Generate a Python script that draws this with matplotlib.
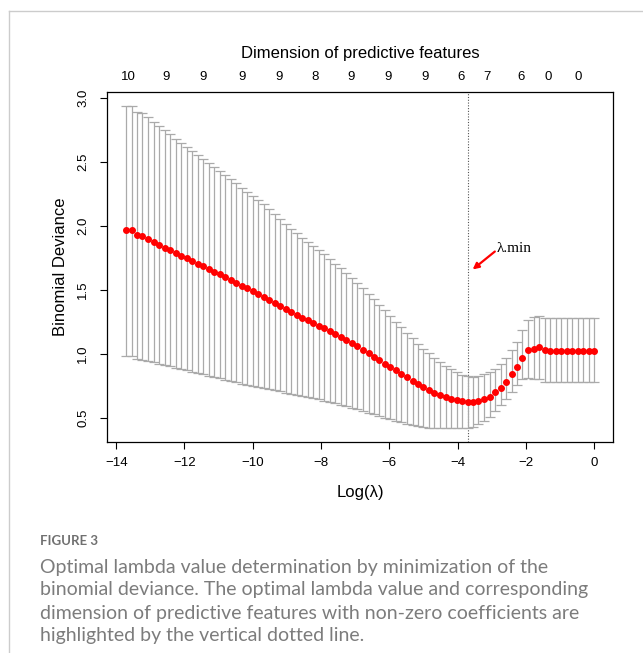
import matplotlib
matplotlib.use("Agg")
import matplotlib.pyplot as plt
from matplotlib.lines import Line2D

# log(lambda) grid of the cv.glmnet fit
log_lambda = [
    -13.71, -13.55, -13.39, -13.23, -13.06, -12.90, -12.74, -12.58, -12.42, -12.26,
    -12.10, -11.94, -11.77, -11.61, -11.45, -11.29, -11.13, -10.97, -10.81, -10.65,
    -10.48, -10.32, -10.16, -10.00, -9.84, -9.68, -9.52, -9.35, -9.19, -9.03,
    -8.87, -8.71, -8.55, -8.39, -8.23, -8.06, -7.90, -7.74, -7.58, -7.42,
    -7.26, -7.10, -6.94, -6.77, -6.61, -6.45, -6.29, -6.13, -5.97, -5.81,
    -5.65, -5.48, -5.32, -5.16, -5.00, -4.84, -4.68, -4.52, -4.35, -4.19,
    -4.03, -3.87, -3.71, -3.55, -3.39, -3.23, -3.06, -2.90, -2.74, -2.58,
    -2.42, -2.26, -2.10, -1.94, -1.77, -1.61, -1.45, -1.29, -1.13, -0.97,
    -0.81, -0.65, -0.48, -0.32, -0.16, 0.00,
]

cv_mean = [
    1.966, 1.966, 1.927, 1.919, 1.898, 1.874, 1.853, 1.830, 1.810, 1.789,
    1.768, 1.747, 1.726, 1.705, 1.685, 1.666, 1.643, 1.622, 1.601, 1.578,
    1.557, 1.534, 1.513, 1.492, 1.469, 1.448, 1.424, 1.398, 1.375, 1.349,
    1.326, 1.305, 1.284, 1.263, 1.242, 1.221, 1.201, 1.178, 1.154, 1.131,
    1.108, 1.084, 1.063, 1.034, 1.006, 0.980, 0.951, 0.925, 0.899, 0.874,
    0.847, 0.819, 0.793, 0.767, 0.741, 0.720, 0.699, 0.678, 0.663, 0.652,
    0.642, 0.632, 0.626, 0.626, 0.634, 0.650, 0.668, 0.702, 0.738, 0.785,
    0.842, 0.902, 0.970, 1.034, 1.042, 1.053, 1.034, 1.026, 1.026, 1.026,
    1.026, 1.026, 1.026, 1.026, 1.026, 1.026,
]

cv_upper = [
    2.938, 2.938, 2.891, 2.878, 2.852, 2.813, 2.782, 2.746, 2.714, 2.680,
    2.649, 2.618, 2.587, 2.553, 2.524, 2.493, 2.462, 2.428, 2.397, 2.366,
    2.332, 2.298, 2.267, 2.236, 2.205, 2.171, 2.129, 2.093, 2.054, 2.012,
    1.976, 1.942, 1.908, 1.877, 1.846, 1.812, 1.778, 1.742, 1.705, 1.669,
    1.633, 1.596, 1.557, 1.518, 1.469, 1.427, 1.383, 1.341, 1.297, 1.253,
    1.209, 1.167, 1.123, 1.081, 1.042, 1.006, 0.970, 0.939, 0.907, 0.881,
    0.858, 0.837, 0.826, 0.822, 0.828, 0.842, 0.858, 0.885, 0.922, 0.970,
    1.030, 1.097, 1.187, 1.264, 1.290, 1.300, 1.280, 1.278, 1.278, 1.278,
    1.278, 1.278, 1.278, 1.278, 1.278, 1.278,
]

cv_lower = [
    0.988, 0.988, 0.959, 0.954, 0.946, 0.936, 0.925, 0.915, 0.905, 0.894,
    0.884, 0.874, 0.863, 0.853, 0.842, 0.832, 0.821, 0.811, 0.800, 0.790,
    0.780, 0.770, 0.762, 0.753, 0.744, 0.735, 0.727, 0.718, 0.710, 0.700,
    0.691, 0.684, 0.673, 0.665, 0.655, 0.647, 0.637, 0.626, 0.616, 0.605,
    0.595, 0.582, 0.569, 0.556, 0.543, 0.530, 0.517, 0.504, 0.494, 0.480,
    0.468, 0.457, 0.447, 0.439, 0.431, 0.426, 0.423, 0.421, 0.421, 0.421,
    0.421, 0.421, 0.421, 0.435, 0.455, 0.480, 0.512, 0.559, 0.603, 0.650,
    0.707, 0.759, 0.803, 0.810, 0.806, 0.803, 0.785, 0.780, 0.780, 0.780,
    0.780, 0.780, 0.780, 0.780, 0.780, 0.780,
]

idx_min = 62  # lambda.min

# number of non-zero coefficients shown on the top axis
top_pos = [-13.65, -12.54, -11.46, -10.32, -9.23, -8.18, -7.12, -6.04,
           -4.96, -3.90, -3.14, -2.15, -1.36, -0.48]
top_labels = ["10", "9", "9", "9", "9", "8", "9", "9", "9", "6", "7", "6", "0", "0"]

x_ticks = [-14, -12, -10, -8, -6, -4, -2, 0]
y_ticks = [0.5, 1.0, 1.5, 2.0, 2.5, 3.0]

plt.rcParams["font.family"] = ["Liberation Sans", "DejaVu Sans"]

fig = plt.figure(figsize=(6.43, 6.53), dpi=100)
ax = fig.add_axes([0.1669, 0.3236, 0.7864, 0.5351])

err_lo = [m - lo for m, lo in zip(cv_mean, cv_lower)]
err_hi = [up - m for m, up in zip(cv_mean, cv_upper)]
ax.errorbar(log_lambda, cv_mean, yerr=[err_lo, err_hi], fmt="none",
            ecolor="#aaaaaa", elinewidth=0.9, capsize=3.6, capthick=0.9, zorder=2)
ax.plot(log_lambda, cv_mean, "o", color="red", ms=4.0, mec="red", zorder=3)

ax.axvline(log_lambda[idx_min], color="#555555", ls=(0, (1, 1.5)), lw=0.8, zorder=1)

# lambda.min arrow
ax.annotate("", xy=(-3.56, 1.66), xytext=(-2.91, 1.80),
            arrowprops=dict(arrowstyle="-|>", color="red", lw=1.6, mutation_scale=9,
                            shrinkA=0, shrinkB=0))
ax.text(-2.85, 1.825, "λ.min", fontfamily="Liberation Serif", fontsize=11,
        va="center", ha="left")

ax.set_xlim(-14.26, 0.55)
ax.set_ylim(0.317, 3.042)
ax.set_xticks(x_ticks)
ax.set_yticks(y_ticks)
ax.set_xticklabels(["\u2212%d" % -t if t < 0 else str(t) for t in x_ticks])
ax.set_yticklabels(["%.1f" % t for t in y_ticks], rotation=90, va="center")
ax.tick_params(axis="both", direction="out", length=5, width=0.8, labelsize=9.5)
ax.tick_params(axis="x", pad=6)
ax.tick_params(axis="y", pad=8)
for s in ax.spines.values():
    s.set_linewidth(0.9)

ax.set_xlabel("Log(λ)", fontsize=12)
ax.set_ylabel("Binomial Deviance", fontsize=12)
ax.xaxis.set_label_coords(0.5, -0.124)
ax.yaxis.set_label_coords(-0.078, 0.5)

top = ax.secondary_xaxis("top")
top.set_xticks(top_pos)
top.set_xticklabels(top_labels)
top.tick_params(length=0, labelsize=9.5, pad=7)
top.spines["top"].set_visible(False)
top.set_xlabel("Dimension of predictive features", fontsize=12, labelpad=9)

# page frame and caption
fig.add_artist(Line2D([9 / 643, 1], [1 - 11 / 653, 1 - 11 / 653],
                      transform=fig.transFigure, color="#cccccc", lw=1))
fig.add_artist(Line2D([9 / 643, 9 / 643], [0, 1 - 11 / 653],
                      transform=fig.transFigure, color="#cccccc", lw=1))

fig.text(40 / 643, 1 - 541 / 653, "FIGURE 3", fontsize=9.5, color="#707070",
         fontfamily="Lato", fontweight="bold", va="center")
caption = ["Optimal lambda value determination by minimization of the",
           "binomial deviance. The optimal lambda value and corresponding",
           "dimension of predictive features with non-zero coefficients are",
           "highlighted by the vertical dotted line."]
for i, line in enumerate(caption):
    fig.text(40 / 643, 1 - (567 + 23 * i) / 653, line, fontsize=14, color="#7c7c7c",
             fontfamily="Lato", fontweight="normal", va="center")

fig.savefig("out.png", dpi=100)
